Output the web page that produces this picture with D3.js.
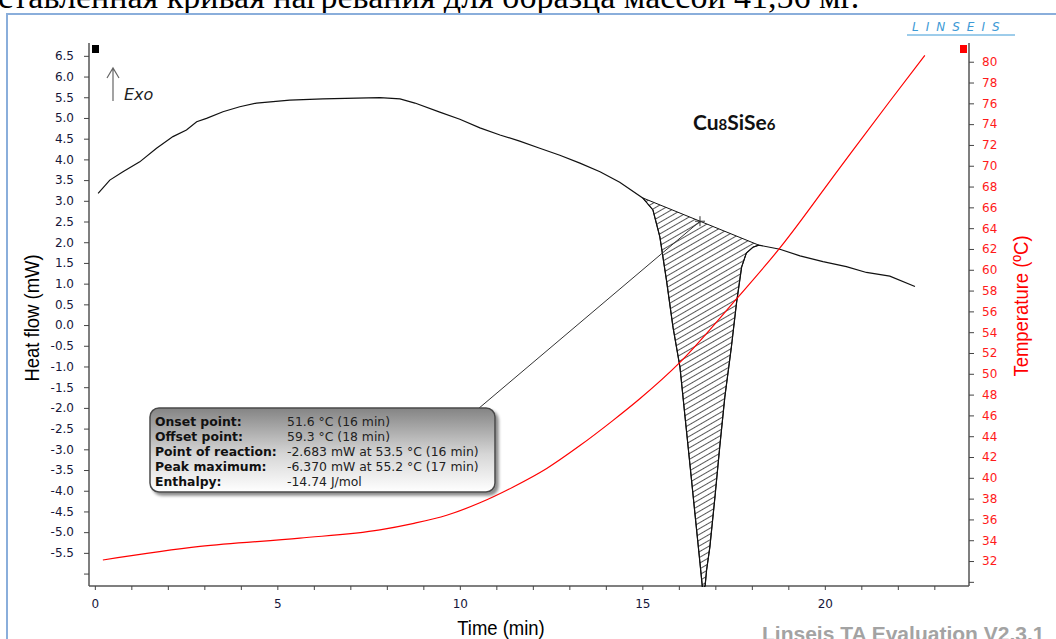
<!DOCTYPE html>
<html>
<head>
<meta charset="utf-8">
<script src="https://cdn.jsdelivr.net/npm/d3@7"></script>
<style>
body { margin: 0; background: #fff; overflow: hidden; }
svg { display: block; }
</style>
</head>
<body>
<svg width="1056" height="639"></svg>
<script>
// heat flow curve (DSC), time in min, value in mW
var hfTime = [0.09, 0.41, 0.77, 1.23, 1.69, 2.14, 2.51, 2.79, 3.06, 3.51, 3.97, 4.43, 5.34, 6.25, 7.17, 7.81, 8.36, 8.77,
    9.45, 10.0, 10.55, 11.10, 11.64, 12.19, 12.74, 13.29, 13.84, 14.38, 15.01,
    15.29, 15.48, 15.66, 15.84, 16.03, 16.16, 16.30, 16.44, 16.58, 16.65, 16.72, 16.76, 16.85, 16.99, 17.12, 17.26,
    17.44, 17.58, 17.72, 17.85, 18.03, 18.19,
    18.77, 19.32, 19.95, 20.59, 21.14, 21.78, 22.47];
var hfValue = [3.18, 3.50, 3.70, 3.94, 4.27, 4.55, 4.71, 4.91, 4.99, 5.15, 5.27, 5.36, 5.43, 5.46, 5.48, 5.49, 5.46, 5.36,
    5.14, 4.97, 4.76, 4.59, 4.44, 4.27, 4.10, 3.91, 3.70, 3.45, 3.07,
    2.78, 2.13, 1.09, -0.05, -1.01, -2.13, -3.33, -4.54, -5.75, -6.37, -6.30, -5.92, -5.36, -4.15, -2.95, -1.74,
    -0.53, 0.53, 1.40, 1.74, 1.88, 1.93,
    1.83, 1.67, 1.53, 1.41, 1.27, 1.18, 0.93];

// temperature curve, time in min, value in °C
var tempTime = [0.22, 2.88, 5.62, 7.81, 8.71, 9.64, 10.55, 11.45, 12.38, 13.29, 14.19, 14.93, 16.03, 17.58, 18.77, 20.41, 21.78, 22.74];
var tempValue = [32.1, 33.4, 34.2, 35.0, 35.6, 36.4, 37.6, 39.1, 40.9, 43.1, 45.5, 47.6, 51.1, 57.2, 62.1, 69.8, 76.2, 80.6];

// peak baseline (onset -> offset) and point of reaction
var peakStart = 15.01, peakEnd = 18.19;
var reactTime = 16.58;

var hfTicks = d3.range(-55, 66, 5).map(function (d) { return d / 10; });
var tempTicks = d3.range(32, 81, 2);
var timeTicks = [0, 5, 10, 15, 20];

var infoLabels = ["Onset point:", "Offset point:", "Point of reaction:", "Peak maximum:", "Enthalpy:"];
var infoValues = ["51.6 °C (16 min)", "59.3 °C (18 min)", "-2.683 mW at 53.5 °C (16 min)", "-6.370 mW at 55.2 °C (17 min)", "-14.74 J/mol"];

var svg = d3.select("svg");
var L = 89, R = 969, T = 43, B = 586;

var x = d3.scaleLinear().domain([-0.16, 23.95]).range([L, R]);
var y = d3.scaleLinear().domain([-6.3, 6.81]).range([B, T]);
var yT = d3.scaleLinear().domain([29.6, 81.8]).range([B, T]);

var defs = svg.append("defs");
defs.append("clipPath").attr("id", "plot")
    .append("rect").attr("x", L).attr("y", T).attr("width", R - L).attr("height", B - T + 1);
var pat = defs.append("pattern").attr("id", "hatch")
    .attr("patternUnits", "userSpaceOnUse").attr("width", 10).attr("height", 5)
    .attr("patternTransform", "rotate(-30)");
pat.append("line").attr("x1", 0).attr("x2", 10).attr("y1", 2.5).attr("y2", 2.5)
    .attr("stroke", "#444").attr("stroke-width", 0.9);
var grad = defs.append("linearGradient").attr("id", "boxgrad").attr("x1", 0).attr("x2", 0).attr("y1", 0).attr("y2", 1);
grad.append("stop").attr("offset", "0").attr("stop-color", "#848484");
grad.append("stop").attr("offset", "0.55").attr("stop-color", "#d6d6d6");
grad.append("stop").attr("offset", "1").attr("stop-color", "#ffffff");
var shadow = defs.append("filter").attr("id", "shadow").attr("x", "-10%").attr("y", "-10%").attr("width", "130%").attr("height", "140%");
shadow.append("feDropShadow").attr("dx", 3).attr("dy", 3).attr("stdDeviation", 1.5)
    .attr("flood-color", "#000").attr("flood-opacity", 0.45);

// caption of the document, cut at the top
svg.append("text").attr("x", -2).attr("y", 8)
    .style("font-family", "Liberation Serif").style("font-size", "34px").attr("fill", "#000")
    .text("ставленная кривая нагревания для образца массой 41,56 мг.");

// outer frame
svg.append("rect").attr("x", 7).attr("y", 14).attr("width", 1100).attr("height", 700)
    .attr("fill", "none").attr("stroke", "#8aaedb").attr("stroke-width", 2);

// LINSEIS logo
svg.append("text").attr("x", 912).attr("y", 31)
    .style("font-family", "DejaVu Sans").style("font-size", "12px").style("font-style", "italic")
    .style("letter-spacing", "7px").attr("fill", "#3d9ad6").text("LINSEIS");
svg.append("line").attr("x1", 907).attr("x2", 1015).attr("y1", 35).attr("y2", 35)
    .attr("stroke", "#3d9ad6").attr("stroke-width", 1);

// axes
function numFmt(d) { return d.toFixed(1); }

var gl = svg.append("g").attr("transform", "translate(" + L + ",0)");
gl.call(d3.axisLeft(y).tickValues(d3.range(-63, 69).map(function (d) { return d / 10; })).tickSize(3).tickFormat(""));
gl.call(d3.axisLeft(y).tickValues(hfTicks.concat([-6.0])).tickSize(5).tickPadding(10)
    .tickFormat(function (d) { return d < -5.9 ? "" : numFmt(d); }));

var gr = svg.append("g").attr("transform", "translate(" + R + ",0)");
gr.call(d3.axisRight(yT).tickValues(d3.range(30, 82)).tickSize(3).tickFormat(""));
gr.call(d3.axisRight(yT).tickValues(tempTicks.concat([30])).tickSize(5).tickPadding(8)
    .tickFormat(function (d) { return d < 31 ? "" : d; }));

var gb = svg.append("g").attr("transform", "translate(0," + B + ")");
gb.call(d3.axisBottom(x).tickValues(d3.range(0, 24)).tickSize(4).tickPadding(9)
    .tickFormat(function (d) { return timeTicks.indexOf(d) >= 0 ? d : ""; }));

svg.selectAll(".domain").attr("stroke", "#555").attr("stroke-width", 1.5);
svg.selectAll(".tick line").attr("stroke", "#444");
svg.selectAll(".tick text").style("font-family", "DejaVu Sans").style("font-size", "12px");
gl.selectAll(".tick text").attr("fill", "#16163a");
gb.selectAll(".tick text").attr("fill", "#16163a");
gr.selectAll(".tick text").attr("fill", "#ff1a1a");
// axis lines span the plot only, no outer tick stubs
gl.select(".domain").attr("d", "M0," + T + "V" + B);
gr.select(".domain").attr("d", "M0," + T + "V" + B);
gb.select(".domain").attr("d", "M" + L + ",0H" + R);

// axis titles
svg.append("text").attr("transform", "translate(39,318) rotate(-90) scale(0.88,1)")
    .attr("text-anchor", "middle").style("font-family", "Liberation Sans").style("font-size", "21px")
    .attr("fill", "#000").text("Heat flow (mW)");
svg.append("text").attr("transform", "translate(1028,306) rotate(-90) scale(0.88,1)")
    .attr("text-anchor", "middle").style("font-family", "Liberation Sans").style("font-size", "21px")
    .attr("fill", "#ff0000").text("Temperature (ºC)");
svg.append("text").attr("transform", "translate(501,635) scale(0.88,1)")
    .attr("text-anchor", "middle").style("font-family", "Liberation Sans").style("font-size", "21px")
    .attr("fill", "#000").text("Time (min)");
svg.append("text").attr("x", 762).attr("y", 641)
    .style("font-family", "Liberation Sans").style("font-size", "21px").style("font-weight", "bold")
    .attr("fill", "#a3a3a3").text("Linseis TA Evaluation V2.3.1");

// curve markers at the top of each axis
svg.append("rect").attr("x", 92).attr("y", 45).attr("width", 7).attr("height", 8).attr("fill", "#000");
svg.append("rect").attr("x", 960).attr("y", 45).attr("width", 7).attr("height", 8).attr("fill", "#ff0000");

// Exo arrow
svg.append("path").attr("d", "M113,101V68M107,78L113,68L119,78")
    .attr("fill", "none").attr("stroke", "#666").attr("stroke-width", 1.2);
svg.append("text").attr("x", 124).attr("y", 100)
    .style("font-family", "DejaVu Sans").style("font-size", "16px").style("font-style", "italic")
    .attr("fill", "#222").text("Exo");

// sample name
var nm = svg.append("text").attr("x", 693).attr("y", 130)
    .style("font-family", "Lato").style("font-size", "21px").style("font-weight", "bold").attr("fill", "#111");
nm.append("tspan").text("Cu");
nm.append("tspan").style("font-size", "15px").text("8");
nm.append("tspan").text("SiSe");
nm.append("tspan").style("font-size", "15px").text("6");

var plot = svg.append("g").attr("clip-path", "url(#plot)");

var hf = hfTime.map(function (t, i) { return [t, hfValue[i]]; });
var temp = tempTime.map(function (t, i) { return [t, tempValue[i]]; });
var peak = hf.filter(function (d) { return d[0] >= peakStart && d[0] <= peakEnd; });
var v0 = hfValue[hfTime.indexOf(peakStart)], v1 = hfValue[hfTime.indexOf(peakEnd)];
var baseAt = function (t) { return v0 + (v1 - v0) * (t - peakStart) / (peakEnd - peakStart); };

var line = d3.line().x(function (d) { return x(d[0]); }).y(function (d) { return y(d[1]); });
var lineT = d3.line().x(function (d) { return x(d[0]); }).y(function (d) { return yT(d[1]); }).curve(d3.curveMonotoneX);

// hatched peak area
plot.append("path").attr("d", line(peak) + "Z").attr("fill", "url(#hatch)").attr("stroke", "#111").attr("stroke-width", 1);

plot.append("path").attr("d", line(hf)).attr("fill", "none").attr("stroke", "#111").attr("stroke-width", 1.2);
plot.append("path").attr("d", lineT(temp)).attr("fill", "none").attr("stroke", "#ff0000").attr("stroke-width", 1.2);

// info box with connector
var cx = x(reactTime), cy = y(baseAt(reactTime));
svg.append("line").attr("x1", 478).attr("y1", 409).attr("x2", cx).attr("y2", cy)
    .attr("stroke", "#333").attr("stroke-width", 1);
svg.append("path").attr("d", "M" + (cx - 5) + "," + cy + "H" + (cx + 5) + "M" + cx + "," + (cy - 5) + "V" + (cy + 5))
    .attr("stroke", "#333").attr("stroke-width", 1);

var box = svg.append("g").attr("transform", "translate(150,408)");
box.append("rect").attr("width", 345).attr("height", 84).attr("rx", 9).attr("ry", 9)
    .attr("fill", "url(#boxgrad)").attr("stroke", "#4a4a4a").attr("stroke-width", 1.5).attr("filter", "url(#shadow)");
box.selectAll("text.lab").data(infoLabels).enter().append("text").attr("class", "lab")
    .attr("x", 5).attr("y", function (d, i) { return 18 + i * 15; })
    .style("font-family", "DejaVu Sans").style("font-size", "12.4px").style("font-weight", "bold")
    .attr("fill", "#111").text(function (d) { return d; });
box.selectAll("text.val").data(infoValues).enter().append("text").attr("class", "val")
    .attr("x", 137).attr("y", function (d, i) { return 18 + i * 15; })
    .style("font-family", "DejaVu Sans").style("font-size", "12.4px")
    .attr("fill", "#222").text(function (d) { return d; });
</script>
</body>
</html>
